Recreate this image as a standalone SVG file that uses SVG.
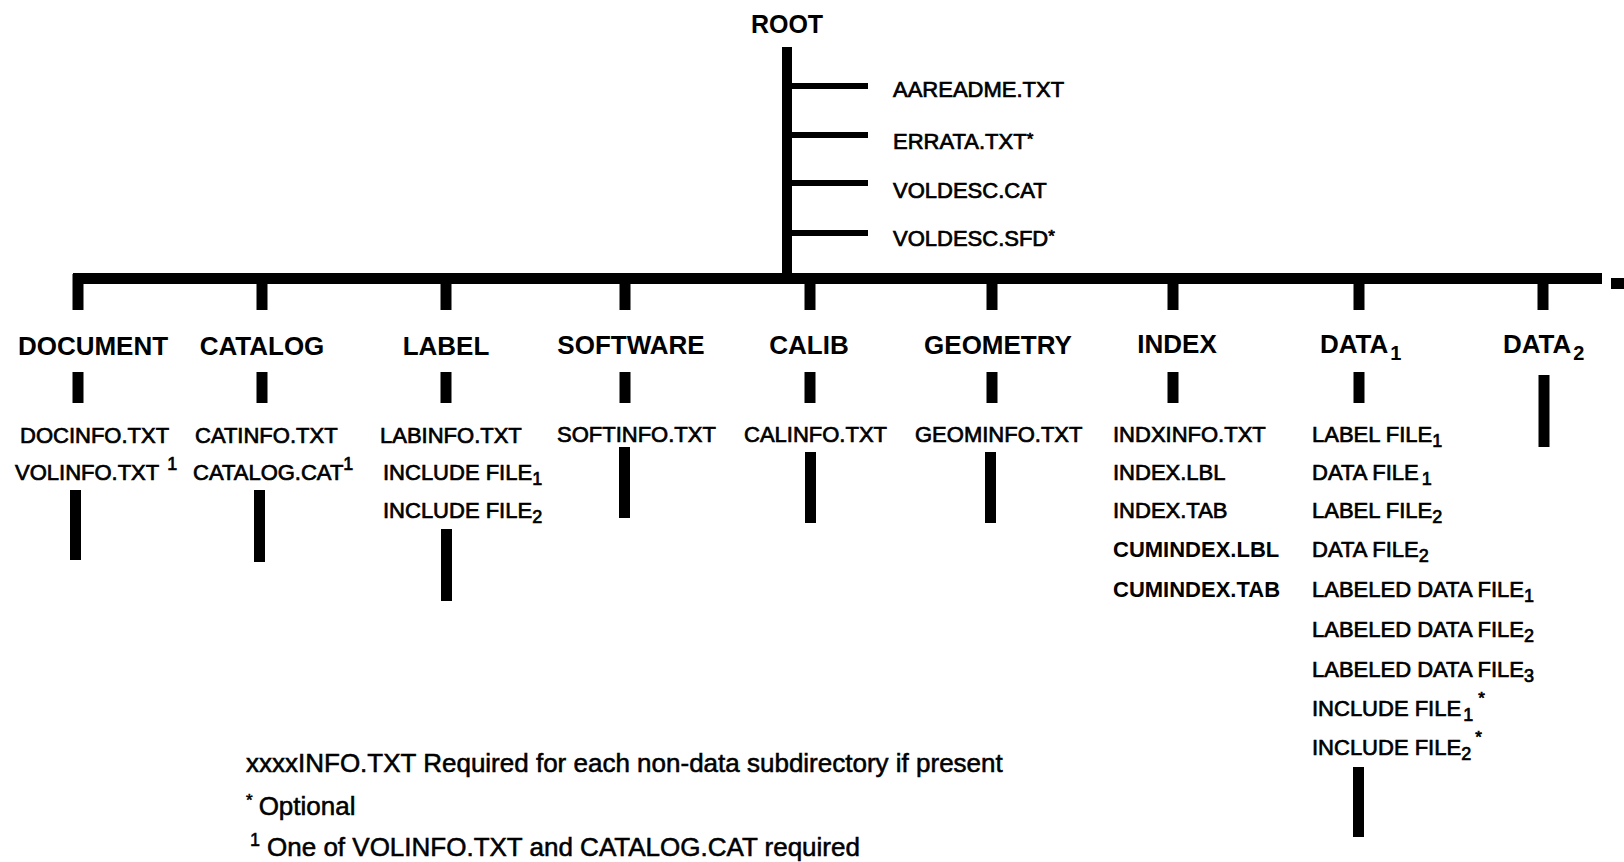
<svg xmlns="http://www.w3.org/2000/svg" width="1624" height="862" viewBox="0 0 1624 862">
<style>
text{font-family:"Liberation Sans",Arial,Helvetica,sans-serif;fill:#000}
.root{font-size:25px;font-weight:bold;text-anchor:middle}
.hdr{font-size:26px;font-weight:bold;text-anchor:middle}
.hs{font-size:26px;font-weight:bold}
.f{font-size:22px;stroke:#000;stroke-width:0.7}
.fb{font-size:22px;font-weight:bold}
.note{font-size:26px;stroke:#000;stroke-width:0.55}
.sb{font-size:18px}
.c{stroke:#000;stroke-width:11;fill:none}
.cb{stroke:#000;stroke-width:6;fill:none}
</style>
<rect width="1624" height="862" fill="#fff"/>
<g id="connectors">
  <line class="c" x1="787" y1="47" x2="787" y2="276" style="stroke-width:10"/>
  <line class="cb" x1="787" y1="86" x2="868" y2="86"/>
  <line class="cb" x1="787" y1="135" x2="868" y2="135"/>
  <line class="cb" x1="787" y1="183" x2="868" y2="183"/>
  <line class="cb" x1="787" y1="233" x2="868" y2="233"/>
  <line class="c" x1="73" y1="278.5" x2="1602" y2="278.5"/>
  <rect x="1611" y="278" width="13" height="11" fill="#000"/>
  <line class="c" x1="78" y1="274" x2="78" y2="310"/>
  <line class="c" x1="262" y1="278" x2="262" y2="310"/>
  <line class="c" x1="446" y1="278" x2="446" y2="310"/>
  <line class="c" x1="625" y1="278" x2="625" y2="310"/>
  <line class="c" x1="810" y1="278" x2="810" y2="310"/>
  <line class="c" x1="992" y1="278" x2="992" y2="310"/>
  <line class="c" x1="1173" y1="278" x2="1173" y2="310"/>
  <line class="c" x1="1359" y1="278" x2="1359" y2="310"/>
  <line class="c" x1="1543" y1="278" x2="1543" y2="310"/>
  <line class="c" x1="78" y1="372" x2="78" y2="403"/>
  <line class="c" x1="262" y1="372" x2="262" y2="403"/>
  <line class="c" x1="446" y1="372" x2="446" y2="403"/>
  <line class="c" x1="625" y1="372" x2="625" y2="403"/>
  <line class="c" x1="810" y1="372" x2="810" y2="403"/>
  <line class="c" x1="992" y1="372" x2="992" y2="403"/>
  <line class="c" x1="1173" y1="372" x2="1173" y2="403"/>
  <line class="c" x1="1359" y1="372" x2="1359" y2="403"/>
  <line class="c" x1="1544" y1="375" x2="1544" y2="447"/>
  <line class="c" x1="75.5" y1="490" x2="75.5" y2="560"/>
  <line class="c" x1="259.5" y1="490" x2="259.5" y2="562"/>
  <line class="c" x1="446.5" y1="529" x2="446.5" y2="601"/>
  <line class="c" x1="624.5" y1="447" x2="624.5" y2="518"/>
  <line class="c" x1="810.5" y1="452" x2="810.5" y2="523"/>
  <line class="c" x1="990.5" y1="452" x2="990.5" y2="523"/>
  <line class="c" x1="1358.5" y1="767" x2="1358.5" y2="837"/>
</g>
<g id="root">
  <text class="root" x="787" y="33">ROOT</text>
  <text class="f" x="893" y="97">AAREADME.TXT</text>
  <text class="f" x="893" y="149">ERRATA.TXT<tspan font-size="17" dy="-4">*</tspan></text>
  <text class="f" x="893" y="198">VOLDESC.CAT</text>
  <text class="f" x="893" y="246">VOLDESC.SFD<tspan font-size="17" dy="-4">*</tspan></text>
</g>
<g id="document">
  <text class="hdr" x="93" y="355">DOCUMENT</text>
  <text class="f" x="20" y="443">DOCINFO.TXT</text>
  <text class="f" x="15" y="480">VOLINFO.TXT<tspan class="sb" dx="8" dy="-10">1</tspan></text>
</g>
<g id="catalog">
  <text class="hdr" x="262" y="355">CATALOG</text>
  <text class="f" x="195" y="443">CATINFO.TXT</text>
  <text class="f" x="193" y="480">CATALOG.CAT<tspan class="sb" dy="-10">1</tspan></text>
</g>
<g id="label">
  <text class="hdr" x="446" y="355">LABEL</text>
  <text class="f" x="380" y="443">LABINFO.TXT</text>
  <text class="f" x="383" y="480">INCLUDE FILE<tspan class="sb" dy="5">1</tspan></text>
  <text class="f" x="383" y="518">INCLUDE FILE<tspan class="sb" dy="5">2</tspan></text>
</g>
<g id="software">
  <text class="hdr" x="631" y="354">SOFTWARE</text>
  <text class="f" x="557" y="442">SOFTINFO.TXT</text>
</g>
<g id="calib">
  <text class="hdr" x="809" y="354">CALIB</text>
  <text class="f" x="744" y="442">CALINFO.TXT</text>
</g>
<g id="geometry">
  <text class="hdr" x="998" y="354">GEOMETRY</text>
  <text class="f" x="915" y="442">GEOMINFO.TXT</text>
</g>
<g id="index">
  <text class="hdr" x="1177" y="353">INDEX</text>
  <text class="f" x="1113" y="442">INDXINFO.TXT</text>
  <text class="f" x="1113" y="480">INDEX.LBL</text>
  <text class="f" x="1113" y="518">INDEX.TAB</text>
  <text class="fb" x="1113" y="557">CUMINDEX.LBL</text>
  <text class="fb" x="1113" y="597">CUMINDEX.TAB</text>
</g>
<g id="data1">
  <text class="hs" x="1320" y="353">DATA<tspan font-size="20" dx="2" dy="7">1</tspan></text>
  <text class="f" x="1312" y="442">LABEL FILE<tspan class="sb" dy="5">1</tspan></text>
  <text class="f" x="1312" y="480">DATA FILE<tspan class="sb" dx="3" dy="5">1</tspan></text>
  <text class="f" x="1312" y="518">LABEL FILE<tspan class="sb" dy="5">2</tspan></text>
  <text class="f" x="1312" y="557">DATA FILE<tspan class="sb" dy="5">2</tspan></text>
  <text class="f" x="1312" y="597">LABELED DATA FILE<tspan class="sb" dy="5">1</tspan></text>
  <text class="f" x="1312" y="637">LABELED DATA FILE<tspan class="sb" dy="5">2</tspan></text>
  <text class="f" x="1312" y="677">LABELED DATA FILE<tspan class="sb" dy="5">3</tspan></text>
  <text class="f" x="1312" y="716">INCLUDE FILE<tspan class="sb" dx="2" dy="5">1</tspan><tspan font-size="17" dx="5" dy="-17">*</tspan></text>
  <text class="f" x="1312" y="755">INCLUDE FILE<tspan class="sb" dy="5">2</tspan><tspan font-size="17" dx="4" dy="-17">*</tspan></text>
</g>
<g id="data2">
  <text class="hs" x="1503" y="353">DATA<tspan font-size="20" dx="2" dy="7">2</tspan></text>
</g>
<g id="notes">
  <text class="note" x="246" y="772">xxxxINFO.TXT Required for each non-data subdirectory if present</text>
  <text class="note" x="246" y="815"><tspan font-size="17" dy="-9">*</tspan><tspan dx="6" dy="9">Optional</tspan></text>
  <text class="note" x="250" y="856"><tspan class="sb" dy="-10">1</tspan><tspan dx="7" dy="10">One of VOLINFO.TXT and CATALOG.CAT required</tspan></text>
</g>
</svg>
